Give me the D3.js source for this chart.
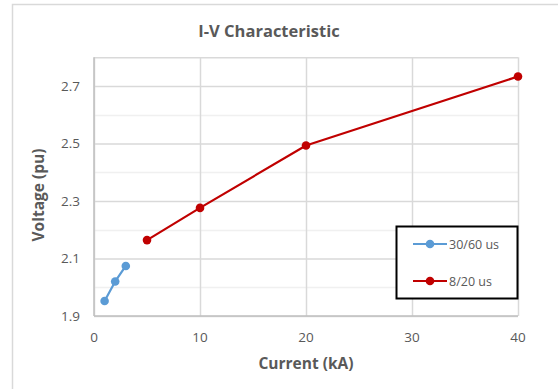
<!DOCTYPE html>
<html>
<head>
<meta charset="utf-8">
<script src="https://cdn.jsdelivr.net/npm/d3@7"></script>
<style>
  html, body { margin: 0; padding: 0; background: #fff; }
  svg { display: block; }
  text { font-family: "Open Sans", "Liberation Sans", sans-serif; }
</style>
</head>
<body>
<svg id="chart" width="558" height="389"></svg>
<script>
// I-V characteristic data: current (kA) vs. residual voltage (pu)
const seriesNames = ["30/60 us", "8/20 us"];
const seriesColors = ["#5b9bd5", "#c00000"];
const current3060 = [1, 2, 3];
const voltage3060 = [1.952, 2.02, 2.074];
const current820 = [5, 10, 20, 40];
const voltage820 = [2.164, 2.276, 2.493, 2.733];
const xTicks = [0, 10, 20, 30, 40];
const yTicks = [1.9, 2.1, 2.3, 2.5, 2.7];
const yMinorTicks = [2.0, 2.2, 2.4, 2.6];

const series = [
  { name: seriesNames[0], color: seriesColors[0], pts: current3060.map((c, i) => [c, voltage3060[i]]) },
  { name: seriesNames[1], color: seriesColors[1], pts: current820.map((c, i) => [c, voltage820[i]]) }
];

const svg = d3.select("#chart");
const plot = { left: 94, right: 518, top: 57.2, bottom: 316 };

const x = d3.scaleLinear().domain([0, 40]).range([plot.left, plot.right]);
const y = d3.scaleLinear().domain([1.9, 2.8]).range([plot.bottom, plot.top]);

// chart frame
svg.append("path")
  .attr("d", "M12.5,389 V4.5 H558")
  .attr("fill", "none").attr("stroke", "#d9d9d9").attr("stroke-width", 1.5);

// minor horizontal gridlines
svg.append("g").selectAll("line").data(yMinorTicks).join("line")
  .attr("x1", plot.left).attr("x2", plot.right)
  .attr("y1", d => Math.round(y(d)) + 0.5).attr("y2", d => Math.round(y(d)) + 0.5)
  .attr("stroke", "#f0f0f0").attr("stroke-width", 1.5);

// major gridlines
const gx = svg.append("g")
  .attr("transform", `translate(0,${plot.bottom})`)
  .call(d3.axisBottom(x).tickValues(xTicks).tickSize(-(plot.bottom - plot.top)).tickFormat(""));
gx.select(".domain").remove();
gx.selectAll("line").attr("stroke", "#d9d9d9").attr("stroke-width", 1.5);

const gy = svg.append("g")
  .attr("transform", `translate(${plot.left},0)`)
  .call(d3.axisLeft(y).tickValues(yTicks.concat([2.8])).tickSize(-(plot.right - plot.left)).tickFormat(""));
gy.select(".domain").remove();
gy.selectAll("line").attr("stroke", "#d9d9d9").attr("stroke-width", 1.5);

// axis lines
svg.append("line").attr("x1", plot.left).attr("x2", plot.right)
  .attr("y1", plot.bottom).attr("y2", plot.bottom).attr("stroke", "#bfbfbf").attr("stroke-width", 1.5);
svg.append("line").attr("x1", plot.left).attr("x2", plot.left)
  .attr("y1", plot.top).attr("y2", plot.bottom).attr("stroke", "#bfbfbf").attr("stroke-width", 1.5);

// tick labels
svg.append("g").selectAll("text").data(xTicks).join("text")
  .attr("x", d => x(d)).attr("y", 342)
  .attr("text-anchor", "middle").attr("font-size", 13.5).attr("fill", "#595959")
  .text(d => d);
svg.append("g").selectAll("text").data(yTicks).join("text")
  .attr("x", 80).attr("y", d => y(d) + 5)
  .attr("text-anchor", "end").attr("font-size", 13.5).attr("fill", "#595959")
  .text(d => d3.format(".1f")(d));

// titles
svg.append("text").attr("x", 269).attr("y", 37)
  .attr("text-anchor", "middle").attr("font-size", 16.5).attr("font-weight", "bold")
  .attr("fill", "#595959").text("I-V Characteristic");
svg.append("text").attr("x", 306).attr("y", 369)
  .attr("text-anchor", "middle").attr("font-size", 15.5).attr("font-weight", "bold")
  .attr("fill", "#595959").text("Current (kA)");
svg.append("text").attr("transform", "translate(44,195) rotate(-90)")
  .attr("text-anchor", "middle").attr("font-size", 15.5).attr("font-weight", "bold")
  .attr("fill", "#595959").text("Voltage (pu)");

// series lines and markers
const line = d3.line().x(d => x(d[0])).y(d => y(d[1]));
series.forEach(s => {
  svg.append("path").datum(s.pts)
    .attr("d", line).attr("fill", "none")
    .attr("stroke", s.color).attr("stroke-width", 2.2).attr("stroke-linejoin", "round");
  svg.append("g").selectAll("circle").data(s.pts).join("circle")
    .attr("cx", d => x(d[0])).attr("cy", d => y(d[1])).attr("r", 4.3)
    .attr("fill", s.color);
});

// legend
const lg = svg.append("g");
lg.append("rect").attr("x", 396.5).attr("y", 226.5).attr("width", 121).attr("height", 72)
  .attr("fill", "#fff").attr("stroke", "#000").attr("stroke-width", 2);
series.forEach((s, i) => {
  const ly = 244 + i * 37;
  lg.append("line").attr("x1", 413).attr("x2", 447).attr("y1", ly).attr("y2", ly)
    .attr("stroke", s.color).attr("stroke-width", 2.2);
  lg.append("circle").attr("cx", 430).attr("cy", ly).attr("r", 4.3).attr("fill", s.color);
  lg.append("text").attr("x", 449).attr("y", ly + 4.5)
    .attr("font-size", 12.5).attr("fill", "#595959").text(s.name);
});
</script>
</body>
</html>
